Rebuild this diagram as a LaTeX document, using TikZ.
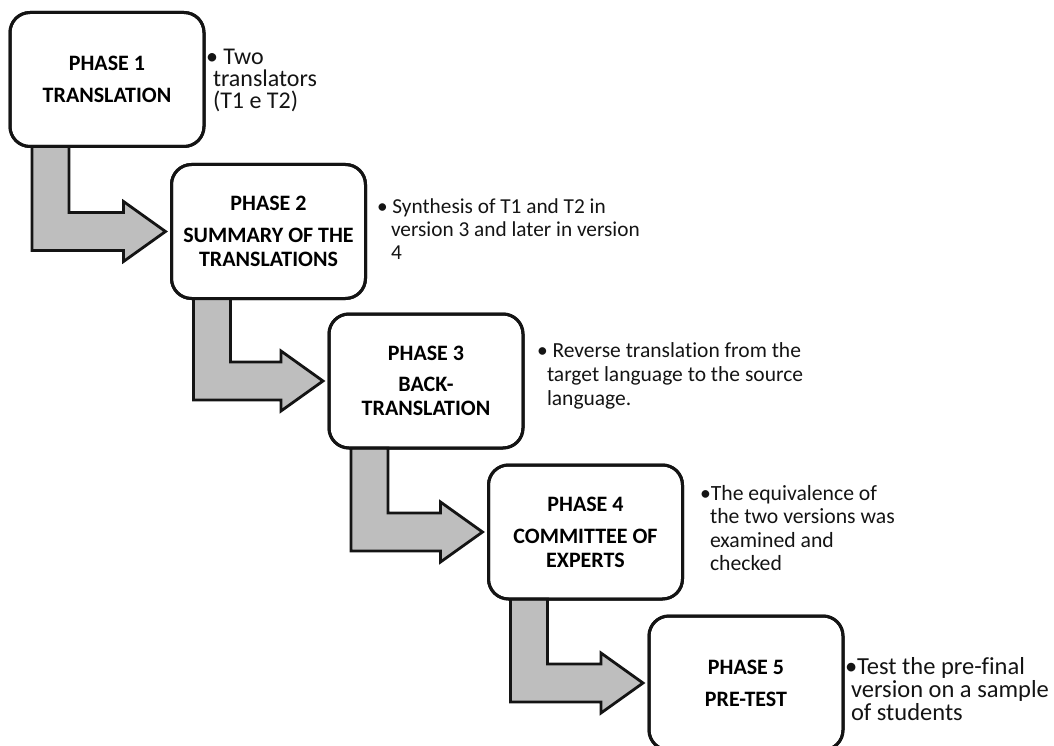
\documentclass[tikz,border=0pt]{standalone}
\usepackage{fontspec}
\setmainfont{Carlito}[Ligatures=NoCommon]
\usetikzlibrary{calc}
\definecolor{arrowfill}{RGB}{190,190,190}
\definecolor{edgecol}{RGB}{20,20,20}
\newcommand{\firstline}[1]{\rule{0pt}{#1}}
\tikzset{
  phasebox/.style={draw=edgecol, line width=3pt, rounded corners=20pt, fill=white,
    minimum width=194pt, minimum height=134pt, inner sep=0pt, outer sep=0pt,
    align=center, font=\fontsize{22}{24}\selectfont\bfseries},
  phasearrow/.style={draw=edgecol, line width=2.8pt, fill=arrowfill, line join=miter},
  note/.style={anchor=north west, inner sep=0pt, outer sep=0pt, align=left, text=edgecol},
}
\begin{document}
\begin{tikzpicture}[x=1pt,y=-1pt]
\useasboundingbox (0,0) rectangle (1054,746);
\clip (0,0) rectangle (1054,746);
% phase boxes
\node[phasebox] (b1) at (107,79.5)  {PHASE 1\\[8pt]TRANSLATION};
\node[phasebox] (b2) at (268.5,231.5) {PHASE 2\\[8pt]SUMMARY OF THE\\TRANSLATIONS};
\node[phasebox] (b3) at (426,381)   {PHASE 3\\[7pt]BACK-\\TRANSLATION};
\node[phasebox] (b4) at (585.5,532) {PHASE 4\\[8pt]COMMITTEE OF\\EXPERTS};
\node[phasebox] (b5) at (746,683)   {PHASE 5\\[8pt]PRE-TEST};
% bent arrows
\foreach \a/\b in {b1/b2,b2/b3,b3/b4,b4/b5}{
  \draw[phasearrow] let \p1=(\a.south west), \p2=(\b.west) in
    (\x1+22pt,\y1) -- (\x1+59pt,\y1) -- (\x1+59pt,\y2+19pt) -- (\x2-48pt,\y2+19pt)
    -- (\x2-48pt,\y2+30pt) -- (\x2-6pt,\y2) -- (\x2-48pt,\y2-30pt) -- (\x2-48pt,\y2-19pt)
    -- (\x1+22pt,\y2-19pt) -- cycle;
}
% redraw box borders on top
\foreach \n in {b1,b2,b3,b4,b5}{
  \draw[edgecol, line width=3pt, rounded corners=20pt] (\n.south west) rectangle (\n.north east);
}
% notes
\node[note, font=\fontsize{24}{22}\selectfont] (n1) at (206,45)
  {\firstline{20pt}• Two\\\hspace*{7pt}translators\\\hspace*{7pt}(T1 e T2)};
\node[note, font=\fontsize{21.3}{23}\selectfont] (n2) at (377,193)
  {\firstline{20pt}• Synthesis of T1 and T2 in\\\hspace*{14pt}version 3 and later in version\\\hspace*{14pt}4};
\node[note, font=\fontsize{21.5}{24}\selectfont] (n3) at (537,337)
  {\firstline{20pt}• Reverse translation from the\\\hspace*{10pt}target language to the source\\\hspace*{10pt}language.};
\node[note, font=\fontsize{21.7}{23.5}\selectfont] (n4) at (700,480)
  {\firstline{20pt}•The equivalence of\\\hspace*{10pt}the two versions was\\\hspace*{10pt}examined and\\\hspace*{10pt}checked};
\node[note, font=\fontsize{24.5}{23}\selectfont] (n5) at (845,654)
  {\firstline{20pt}•Test the pre-final\\\hspace*{6pt}version on a sample\\\hspace*{6pt}of students};
\end{tikzpicture}
\end{document}
